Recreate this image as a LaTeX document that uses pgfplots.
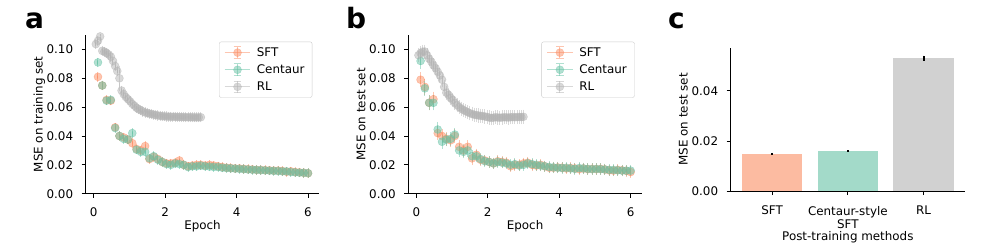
\documentclass[border=0pt]{standalone}
\usepackage{fontspec}
\setmainfont{DejaVu Sans}
\usepackage{pgfplots}
\usepackage{pgfplotstable}
\pgfplotsset{compat=1.18}

\definecolor{sftc}{HTML}{FC8D62}
\definecolor{cenc}{HTML}{66C2A5}
\definecolor{rlc}{HTML}{B3B3B3}
\definecolor{sftbar}{RGB}{252,187,161}
\definecolor{cenbar}{RGB}{163,218,201}
\definecolor{rlbar}{RGB}{209,209,209}

% ---------- panel a: training set ----------
\pgfplotstableread{
x y e
0.12 0.081 0.0008
0.24 0.075 0.0008
0.36 0.065 0.0008
0.48 0.0645 0.0008
0.60 0.046 0.0008
0.72 0.040 0.0008
0.84 0.039 0.0008
0.96 0.0375 0.0008
1.08 0.035 0.0008
1.20 0.031 0.0008
1.32 0.030 0.0008
1.44 0.033 0.0008
1.56 0.024 0.0008
1.68 0.0255 0.0008
1.80 0.024 0.0008
1.92 0.022 0.0008
2.04 0.021 0.0008
2.16 0.021 0.0008
2.28 0.0215 0.0008
2.40 0.023 0.0008
2.52 0.020 0.0008
2.64 0.019 0.0008
2.76 0.0195 0.0008
2.88 0.020 0.0008
3.00 0.020 0.0008
3.12 0.0195 0.0008
3.24 0.020 0.0008
3.36 0.0195 0.0008
3.48 0.019 0.0008
3.60 0.0185 0.0008
3.72 0.018 0.0008
3.84 0.0178 0.0008
3.96 0.0175 0.0008
4.08 0.0175 0.0008
4.20 0.0172 0.0008
4.32 0.017 0.0008
4.44 0.0168 0.0008
4.56 0.0165 0.0008
4.68 0.0165 0.0008
4.80 0.0163 0.0008
4.92 0.0162 0.0008
5.04 0.016 0.0008
5.16 0.016 0.0008
5.28 0.0158 0.0008
5.40 0.0152 0.0008
5.52 0.0155 0.0008
5.64 0.015 0.0008
5.76 0.0148 0.0008
5.88 0.0145 0.0008
6.00 0.0142 0.0008
}\aSFT

\pgfplotstableread{
x y e
0.12 0.091 0.0008
0.24 0.075 0.0008
0.36 0.0645 0.0008
0.48 0.065 0.0008
0.60 0.0455 0.0008
0.72 0.040 0.0008
0.84 0.038 0.0008
0.96 0.0375 0.0008
1.08 0.042 0.0008
1.20 0.0305 0.0008
1.32 0.029 0.0008
1.44 0.029 0.0008
1.56 0.0245 0.0008
1.68 0.026 0.0008
1.80 0.0235 0.0008
1.92 0.022 0.0008
2.04 0.0205 0.0008
2.16 0.020 0.0008
2.28 0.021 0.0008
2.40 0.0205 0.0008
2.52 0.020 0.0008
2.64 0.0185 0.0008
2.76 0.019 0.0008
2.88 0.019 0.0008
3.00 0.0195 0.0008
3.12 0.019 0.0008
3.24 0.0188 0.0008
3.36 0.0185 0.0008
3.48 0.0185 0.0008
3.60 0.018 0.0008
3.72 0.0178 0.0008
3.84 0.0176 0.0008
3.96 0.0174 0.0008
4.08 0.0172 0.0008
4.20 0.017 0.0008
4.32 0.0168 0.0008
4.44 0.0166 0.0008
4.56 0.0165 0.0008
4.68 0.0163 0.0008
4.80 0.0162 0.0008
4.92 0.016 0.0008
5.04 0.0158 0.0008
5.16 0.0157 0.0008
5.28 0.0155 0.0008
5.40 0.0155 0.0008
5.52 0.015 0.0008
5.64 0.0148 0.0008
5.76 0.0146 0.0008
5.88 0.0145 0.0008
6.00 0.0142 0.0008
}\aCEN

\pgfplotstableread{
x y e
0.06 0.1037 0.0010
0.12 0.1060 0.0010
0.18 0.1090 0.0030
0.24 0.0990 0.0010
0.30 0.0985 0.0010
0.36 0.0975 0.0010
0.42 0.0965 0.0010
0.48 0.0950 0.0010
0.54 0.0920 0.0010
0.60 0.0885 0.0010
0.66 0.0850 0.0010
0.72 0.0800 0.0060
0.78 0.0715 0.0010
0.84 0.0690 0.0010
0.90 0.0670 0.0010
0.96 0.0655 0.0010
1.02 0.0640 0.0010
1.08 0.0622 0.0010
1.14 0.0610 0.0010
1.20 0.0595 0.0010
1.26 0.0585 0.0010
1.32 0.0578 0.0010
1.38 0.0570 0.0010
1.44 0.0563 0.0010
1.50 0.0560 0.0010
1.56 0.0555 0.0010
1.62 0.0552 0.0010
1.68 0.0548 0.0010
1.74 0.0545 0.0010
1.80 0.0542 0.0010
1.86 0.0540 0.0010
1.92 0.0537 0.0010
1.98 0.0536 0.0010
2.04 0.0535 0.0010
2.10 0.0534 0.0010
2.16 0.0534 0.0010
2.22 0.0533 0.0010
2.28 0.0533 0.0010
2.34 0.0532 0.0010
2.40 0.0532 0.0010
2.46 0.0531 0.0010
2.52 0.0531 0.0010
2.58 0.0530 0.0010
2.64 0.0530 0.0010
2.70 0.0530 0.0010
2.76 0.0530 0.0010
2.82 0.0529 0.0010
2.88 0.0529 0.0010
2.94 0.0529 0.0010
3.00 0.0530 0.0010
}\aRL

% ---------- panel b: test set ----------
\pgfplotstableread{
x y e
0.12 0.079 0.0028
0.24 0.074 0.0028
0.36 0.063 0.0028
0.48 0.0655 0.0028
0.60 0.042 0.0025
0.72 0.040 0.0022
0.84 0.038 0.0022
0.96 0.037 0.0022
1.08 0.040 0.0022
1.20 0.0325 0.0020
1.32 0.030 0.0020
1.44 0.0325 0.0020
1.56 0.0245 0.0018
1.68 0.027 0.0018
1.80 0.0235 0.0016
1.92 0.023 0.0016
2.04 0.022 0.0015
2.16 0.021 0.0015
2.28 0.0225 0.0015
2.40 0.022 0.0015
2.52 0.0215 0.0015
2.64 0.019 0.0015
2.76 0.020 0.0015
2.88 0.020 0.0015
3.00 0.021 0.0015
3.12 0.0215 0.0015
3.24 0.020 0.0015
3.36 0.0195 0.0015
3.48 0.020 0.0015
3.60 0.019 0.0015
3.72 0.018 0.0015
3.84 0.018 0.0015
3.96 0.0182 0.0015
4.08 0.018 0.0015
4.20 0.0175 0.0015
4.32 0.0178 0.0015
4.44 0.0175 0.0015
4.56 0.017 0.0015
4.68 0.0175 0.0015
4.80 0.017 0.0015
4.92 0.0172 0.0015
5.04 0.017 0.0015
5.16 0.0172 0.0015
5.28 0.0168 0.0015
5.40 0.0162 0.0015
5.52 0.016 0.0015
5.64 0.0165 0.0015
5.76 0.0162 0.0015
5.88 0.0158 0.0015
6.00 0.015 0.0015
}\bSFT

\pgfplotstableread{
x y e
0.12 0.092 0.0028
0.24 0.073 0.0028
0.36 0.063 0.0028
0.48 0.063 0.0028
0.60 0.0445 0.0025
0.72 0.036 0.0022
0.84 0.0375 0.0022
0.96 0.038 0.0022
1.08 0.041 0.0022
1.20 0.030 0.0020
1.32 0.029 0.0020
1.44 0.030 0.0020
1.56 0.026 0.0018
1.68 0.026 0.0018
1.80 0.024 0.0016
1.92 0.0225 0.0016
2.04 0.022 0.0015
2.16 0.021 0.0015
2.28 0.022 0.0015
2.40 0.0215 0.0015
2.52 0.021 0.0015
2.64 0.020 0.0015
2.76 0.0205 0.0015
2.88 0.0195 0.0015
3.00 0.020 0.0015
3.12 0.021 0.0015
3.24 0.0205 0.0015
3.36 0.020 0.0015
3.48 0.0195 0.0015
3.60 0.019 0.0015
3.72 0.0185 0.0015
3.84 0.0182 0.0015
3.96 0.018 0.0015
4.08 0.0178 0.0015
4.20 0.018 0.0015
4.32 0.0175 0.0015
4.44 0.0172 0.0015
4.56 0.0178 0.0015
4.68 0.0175 0.0015
4.80 0.0172 0.0015
4.92 0.017 0.0015
5.04 0.0172 0.0015
5.16 0.017 0.0015
5.28 0.0168 0.0015
5.40 0.0165 0.0015
5.52 0.0165 0.0015
5.64 0.0162 0.0015
5.76 0.016 0.0015
5.88 0.016 0.0015
6.00 0.016 0.0015
}\bCEN

\pgfplotstableread{
x y e
0.06 0.0960 0.0024
0.12 0.0975 0.0024
0.18 0.0985 0.0024
0.24 0.0985 0.0024
0.30 0.0960 0.0024
0.36 0.0935 0.0024
0.42 0.0915 0.0024
0.48 0.0890 0.0024
0.54 0.0870 0.0024
0.60 0.0845 0.0024
0.66 0.0820 0.0024
0.72 0.0790 0.0024
0.78 0.0740 0.0024
0.84 0.0700 0.0024
0.90 0.0685 0.0024
0.96 0.0665 0.0024
1.02 0.0650 0.0024
1.08 0.0630 0.0024
1.14 0.0615 0.0024
1.20 0.0600 0.0024
1.26 0.0590 0.0024
1.32 0.0580 0.0024
1.38 0.0572 0.0024
1.44 0.0565 0.0024
1.50 0.0558 0.0024
1.56 0.0552 0.0024
1.62 0.0548 0.0024
1.68 0.0545 0.0024
1.74 0.0542 0.0024
1.80 0.0540 0.0024
1.86 0.0538 0.0024
1.92 0.0535 0.0024
1.98 0.0532 0.0024
2.04 0.0528 0.0024
2.10 0.0525 0.0024
2.16 0.0527 0.0024
2.22 0.0530 0.0024
2.28 0.0528 0.0024
2.34 0.0527 0.0024
2.40 0.0528 0.0024
2.46 0.0530 0.0024
2.52 0.0529 0.0024
2.58 0.0528 0.0024
2.64 0.0530 0.0024
2.70 0.0531 0.0024
2.76 0.0530 0.0024
2.82 0.0531 0.0024
2.88 0.0532 0.0024
2.94 0.0531 0.0024
3.00 0.0533 0.0024
}\bRL

% ---------- panel c ----------
\pgfplotstableread{
x y e
0 0.0149 0.0003
}\cSFT
\pgfplotstableread{
x y e
1 0.0160 0.0003
}\cCEN
\pgfplotstableread{
x y e
2 0.0531 0.0010
}\cRL

\newcommand{\fs}{\fontsize{11.9}{13.4}\selectfont}

\pgfplotsset{
  errleg/.style={legend image code/.code={
      \draw[#1,opacity=0.5,line width=1pt] (0pt,0pt) -- (25.6pt,0pt);
      \draw[#1,opacity=0.5,line width=1pt] (12.8pt,-5.8pt) -- (12.8pt,5.8pt);
      \draw[#1,opacity=0.5,line width=1pt] (9pt,5.8pt) -- (16.6pt,5.8pt);
      \draw[#1,opacity=0.5,line width=1pt] (9pt,-5.8pt) -- (16.6pt,-5.8pt);
      \fill[#1,opacity=0.5] (12.8pt,0pt) circle (4pt);
  }},
  series/.style={only marks, mark=*, mark size=4pt, color=#1,
      mark options={fill=#1, draw=#1, fill opacity=0.5, draw opacity=0.5, line width=0.5pt},
      errleg=#1,
      error bars/.cd, y dir=both, y explicit,
      error mark options={#1, opacity=0.5, mark size=3.6pt, line width=1pt},
      error bar style={#1, opacity=0.5, line width=1pt}},
  common/.style={
      scale only axis,
      font=\fs,
      axis x line*=bottom, axis y line*=left,
      axis line style={line width=0.95pt, black},
      tick align=outside, major tick length=4.2pt,
      tick style={line width=0.95pt, black},
      /pgf/number format/assume math mode=true,
      tick label style={font=\fs},
      xticklabel style={anchor=north, inner sep=0pt, yshift=-9.6pt},
      yticklabel style={anchor=east, inner sep=0pt, xshift=-8.2pt,
         /pgf/number format/fixed, /pgf/number format/fixed zerofill,
         /pgf/number format/precision=2},
      scaled y ticks=false,
      xlabel style={font=\fs, anchor=center, inner sep=0pt},
      ylabel style={font=\fs, anchor=center, inner sep=0pt},
  },
  mse/.style={
      common,
      width=233.6pt, height=158.7pt,
      xmin=-0.224, xmax=6.316, ymin=0, ymax=0.11,
      xtick={0,2,4,6},
      ytick={0,0.02,0.04,0.06,0.08,0.10},
      xlabel={Epoch},
      xlabel style={at={(axis description cs:0.5,-0.2023)}},
      legend cell align=left,
      legend style={at={(axis description cs:0.970,0.958)}, anchor=north east,
         draw=black!20, rounded corners=2pt, fill=white, fill opacity=0.8,
         text opacity=1, inner xsep=5pt, inner ysep=3pt, row sep=1.6pt,
         column sep=3.5pt, font=\fs,
         nodes={inner sep=2.6pt}},
  },
}

\begin{document}
\begin{tikzpicture}
\path[use as bounding box] (0pt,0pt) rectangle (996pt,249pt);

% panel letters
\node[anchor=base west, inner sep=0pt, font=\fontsize{28}{30}\selectfont\bfseries] at (25pt,220.7pt) {a};
\node[anchor=base west, inner sep=0pt, font=\fontsize{28}{30}\selectfont\bfseries] at (346pt,220.7pt) {b};
\node[anchor=base west, inner sep=0pt, font=\fontsize{28}{30}\selectfont\bfseries] at (668pt,220.7pt) {c};

% ---- a ----
\begin{axis}[mse, at={(85.7pt,55.3pt)}, anchor=south west,
   ylabel={MSE on training set},
   ylabel style={at={(axis description cs:-0.1986,0.5)}}]
\addplot[series=sftc] table[x=x, y=y, y error=e] {\aSFT};
\addlegendentry{SFT}
\addplot[series=cenc] table[x=x, y=y, y error=e] {\aCEN};
\addlegendentry{Centaur}
\addplot[series=rlc] table[x=x, y=y, y error=e] {\aRL};
\addlegendentry{RL}
\end{axis}

% ---- b ----
\begin{axis}[mse, at={(408.3pt,55.3pt)}, anchor=south west,
   ylabel={MSE on test set},
   ylabel style={at={(axis description cs:-0.2021,0.5)}},
   legend style={at={(axis description cs:0.969,0.958)}}]
\addplot[series=sftc] table[x=x, y=y, y error=e] {\bSFT};
\addlegendentry{SFT}
\addplot[series=cenc] table[x=x, y=y, y error=e] {\bCEN};
\addlegendentry{Centaur}
\addplot[series=rlc] table[x=x, y=y, y error=e] {\bRL};
\addlegendentry{RL}
\end{axis}

% ---- c ----
\begin{axis}[common, at={(730.7pt,58pt)}, anchor=south west,
   width=234.3pt, height=143.3pt,
   xmin=-0.546, xmax=2.546, ymin=0, ymax=0.0573,
   xtick={0,1,2}, xticklabels={SFT,{Centaur-style\\SFT},RL},
   xticklabel style={align=center, yshift=-1pt},
   ytick={0,0.02,0.04},
   xlabel={Post-training methods},
   xlabel style={at={(axis description cs:0.5,-0.3224)}},
   ylabel={MSE on test set},
   ylabel style={at={(axis description cs:-0.2023,0.5)}}]
\addplot[ybar, bar width=0.8, bar shift=0pt, fill=sftbar, draw=none,
   error bars/.cd, y dir=both, y explicit, error mark=none,
   error bar style={black, line width=1.8pt}]
   table[x=x, y=y, y error=e] {\cSFT};
\addplot[ybar, bar width=0.8, bar shift=0pt, fill=cenbar, draw=none,
   error bars/.cd, y dir=both, y explicit, error mark=none,
   error bar style={black, line width=1.8pt}]
   table[x=x, y=y, y error=e] {\cCEN};
\addplot[ybar, bar width=0.8, bar shift=0pt, fill=rlbar, draw=none,
   error bars/.cd, y dir=both, y explicit, error mark=none,
   error bar style={black, line width=1.8pt}]
   table[x=x, y=y, y error=e] {\cRL};
\end{axis}
\end{tikzpicture}
\end{document}
